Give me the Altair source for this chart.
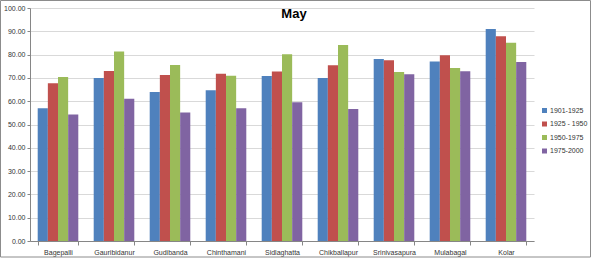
import altair as alt
import pandas as pd

stations = ["Bagepalli", "Gauribidanur", "Gudibanda", "Chinthamani", "Sidlaghatta",
            "Chikballapur", "Srinivasapura", "Mulabagal", "Kolar"]
periods = ["1901-1925", "1925 - 1950", "1950-1975", "1975-2000"]
p1901 = [57.0, 70.0, 64.0, 64.7, 70.8, 70.0, 78.1, 77.0, 91.0]
p1925 = [67.7, 73.0, 71.2, 71.8, 72.8, 75.4, 77.6, 79.7, 87.9]
p1950 = [70.4, 81.3, 75.5, 70.9, 80.1, 84.1, 72.5, 74.3, 85.1]
p1975 = [54.3, 61.1, 55.2, 57.0, 59.6, 56.7, 71.6, 72.9, 76.8]
colors = ["#4F81BD", "#C0504D", "#9BBB59", "#8064A2"]
title_text = "May"

rows = []
for per, vals in zip(periods, [p1901, p1925, p1950, p1975]):
    for s, v in zip(stations, vals):
        rows.append({"Station": s, "Period": per, "Value": v})
df = pd.DataFrame(rows)

font = "Liberation Sans"

bars = alt.Chart(df).mark_bar(stroke=None).encode(
    x=alt.X("Station:N", sort=stations, title=None,
            scale=alt.Scale(paddingInner=0.275, paddingOuter=0.1375),
            axis=alt.Axis(labelAngle=0, labelFontSize=7, labelFont=font, labelColor="#333",
                          domainColor="#868686", tickColor="#868686", tickBand="extent",
                          tickSize=4, labelPadding=3, grid=False)),
    xOffset=alt.XOffset("Period:N", sort=periods, scale=alt.Scale(paddingInner=0, paddingOuter=0)),
    y=alt.Y("Value:Q", title=None,
            scale=alt.Scale(domain=[0, 100], nice=False),
            axis=alt.Axis(values=list(range(0, 101, 10)), format=".2f", labelFontSize=7,
                          labelFont=font, labelColor="#333", domainColor="#868686",
                          tickColor="#868686", tickSize=3, labelPadding=2,
                          gridColor="#d9d9d9", gridWidth=1)),
    color=alt.Color("Period:N", sort=periods,
                    scale=alt.Scale(domain=periods, range=colors),
                    legend=alt.Legend(title=None, orient="none", legendX=511, legendY=99,
                                      symbolType="square", symbolSize=25, symbolStrokeWidth=0,
                                      labelFontSize=7, labelFont=font, labelColor="#333",
                                      rowPadding=5.5, labelOffset=2)),
)

title = alt.Chart(pd.DataFrame({"t": [title_text]})).mark_text(
    font=font, fontSize=13, fontWeight="bold", color="#000", align="center", baseline="middle"
).encode(text="t:N", x=alt.value(264), y=alt.value(6))

border = alt.Chart(pd.DataFrame({"a": [0]})).mark_rect(
    filled=False, stroke="#8c8c8c", strokeWidth=1
).encode(x=alt.value(-29.5), x2=alt.value(560.5), y=alt.value(-7.5), y2=alt.value(249))

chart = alt.layer(bars, title, border).properties(
    width=504, height=233,
    autosize=alt.AutoSizeParams(type="none"),
    padding={"left": 30, "top": 8, "right": 57, "bottom": 19},
).configure_view(stroke="transparent")

chart.save("out.html", embed_options={"renderer": "svg", "actions": False})
